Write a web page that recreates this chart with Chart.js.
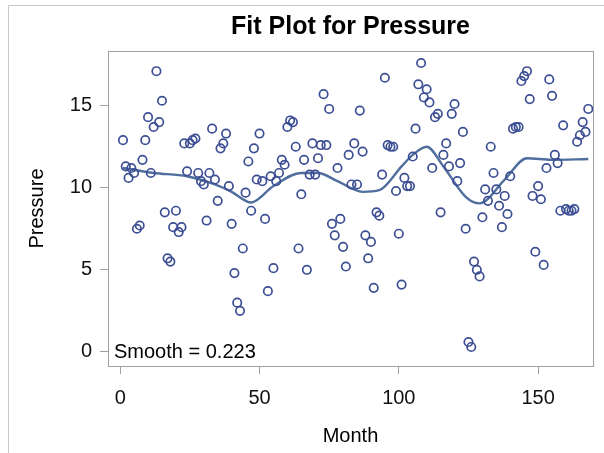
<!DOCTYPE html>
<html>
<head>
<meta charset="utf-8">
<script src="https://cdn.jsdelivr.net/npm/chart.js@4/dist/chart.umd.min.js"></script>
<style>
    html, body { margin: 0; padding: 0; background: #fff; }
    #chart-container { width: 604px; height: 453px; }
</style>
</head>
<body>
<div id="chart-container"><canvas id="fit-plot"></canvas></div>
<script>
// monthly pressure readings, month 1 .. 168
const pressure = [
    12.9, 11.3, 10.6, 11.2, 10.9, 7.5, 7.7, 11.7, 12.9, 14.3, 10.9, 13.7, 17.1, 14.0, 15.3, 8.5,
    5.7, 5.5, 7.6, 8.6, 7.3, 7.6, 12.7, 11.0, 12.7, 12.9, 13.0, 10.9, 10.4, 10.2, 8.0, 10.9,
    13.6, 10.5, 9.2, 12.4, 12.7, 13.3, 10.1, 7.8, 4.8, 3.0, 2.5, 6.3, 9.7, 11.6, 8.6, 12.4,
    10.5, 13.3, 10.4, 8.1, 3.7, 10.7, 5.1, 10.4, 10.9, 11.7, 11.4, 13.7, 14.1, 14.0, 12.5, 6.3,
    9.6, 11.7, 5.0, 10.8, 12.7, 10.8, 11.8, 12.6, 15.7, 12.6, 14.8, 7.8, 7.1, 11.2, 8.1, 6.4,
    5.2, 12.0, 10.2, 12.7, 10.2, 14.7, 12.2, 7.1, 5.7, 6.7, 3.9, 8.5, 8.3, 10.8, 16.7, 12.6,
    12.5, 12.5, 9.8, 7.2, 4.1, 10.6, 10.1, 10.1, 11.9, 13.6, 16.3, 17.6, 15.5, 16.0, 15.2, 11.2,
    14.3, 14.5, 8.5, 12.0, 12.7, 11.3, 14.5, 15.1, 10.4, 11.5, 13.4, 7.5, 0.6, 0.3, 5.5, 5.0,
    4.6, 8.2, 9.9, 9.2, 12.5, 10.9, 9.9, 8.9, 7.6, 9.5, 8.4, 10.7, 13.6, 13.7, 13.7, 16.5,
    16.8, 17.1, 15.4, 9.5, 6.1, 10.1, 9.3, 5.3, 11.2, 16.6, 15.6, 12.0, 11.5, 8.6, 13.8, 8.7,
    8.6, 8.6, 8.7, 12.8, 13.2, 14.0, 13.4, 14.8
];
const months = pressure.map((_, i) => i + 1);

// loess curve read along the month axis
const fitMonths = [1, 12, 24, 34, 40, 47, 55, 65, 71, 78, 87, 93, 101, 105, 110, 116, 124, 129, 138, 146, 155, 168];
const fitValues = [11.2, 10.9, 10.7, 10.2, 9.75, 9.1, 10.1, 10.9, 10.9, 10.4, 9.75, 9.85, 11.3, 12.0, 12.5, 11.3, 9.45, 9.05, 10.5, 11.8, 11.7, 11.75];

const xTicks = [0, 50, 100, 150];
const yTicks = [0, 5, 10, 15];

const chartTitle = 'Fit Plot for Pressure';
const smoothLabel = 'Smooth = 0.223';

const MarkerColor = '#3d4f94';
const FitColor = '#4f6e9d';
const FrameColor = '#a0a0a0';
const FontFamily = '"Liberation Sans", Arial, sans-serif';

// title, inset label, plot frame and outer border
const decorations = {
    id: 'decorations',
    beforeDraw(chart) {
        const ctx = chart.ctx;
        ctx.save();
        ctx.strokeStyle = '#c8c8c8';
        ctx.lineWidth = 1;
        ctx.beginPath();
        ctx.moveTo(8.5, chart.height);
        ctx.lineTo(8.5, 5.5);
        ctx.lineTo(chart.width, 5.5);
        ctx.stroke();
        ctx.restore();
    },
    afterDraw(chart) {
        const ctx = chart.ctx;
        const area = chart.chartArea;
        ctx.save();
        ctx.strokeStyle = FrameColor;
        ctx.lineWidth = 1;
        ctx.strokeRect(area.left + 0.5, area.top + 0.5, area.right - area.left, area.bottom - area.top);

        ctx.fillStyle = '#000';
        ctx.textBaseline = 'middle';
        ctx.font = 'bold 25px ' + FontFamily;
        ctx.textAlign = 'center';
        ctx.fillText(chartTitle, (area.left + area.right) / 2, 27);

        ctx.font = '20px ' + FontFamily;
        ctx.textAlign = 'left';
        ctx.fillText(smoothLabel, area.left + 6, area.bottom - 14);
        ctx.restore();
    }
};

function fixedTicks(values) {
    return function(scale) {
        scale.ticks = values.map(v => ({ value: v }));
    };
}

new Chart(document.getElementById('fit-plot'), {
    type: 'scatter',
    data: {
        datasets: [{
            type: 'line',
            data: fitMonths.map((m, i) => ({ x: m, y: fitValues[i] })),
            borderColor: FitColor,
            borderWidth: 2.4,
            pointRadius: 0,
            fill: false,
            cubicInterpolationMode: 'monotone',
            order: 2
        }, {
            data: months.map((m, i) => ({ x: m, y: pressure[i] })),
            pointStyle: 'circle',
            pointRadius: 4.2,
            pointBorderWidth: 1.7,
            borderColor: MarkerColor,
            backgroundColor: 'rgba(0,0,0,0)',
            order: 1
        }]
    },
    options: {
        responsive: true,
        maintainAspectRatio: false,
        animation: false,
        layout: {
            padding: { top: 51, right: 11, left: 0, bottom: 0 }
        },
        scales: {
            x: {
                type: 'linear',
                min: -4.38,
                max: 169.7,
                afterBuildTicks: fixedTicks(xTicks),
                afterFit: scale => { scale.height = 87; },
                grid: { drawOnChartArea: false, drawTicks: true, tickLength: 8, color: FrameColor },
                border: { display: true, color: FrameColor },
                ticks: {
                    color: '#111',
                    padding: 12,
                    maxRotation: 0,
                    font: { family: FontFamily, size: 20 }
                },
                title: {
                    display: true,
                    text: 'Month',
                    color: '#000',
                    padding: { top: 0, bottom: 5 },
                    font: { family: FontFamily, size: 20 }
                }
            },
            y: {
                min: -0.86,
                max: 18.33,
                afterBuildTicks: fixedTicks(yTicks),
                afterFit: scale => { scale.width = 108; },
                grid: { drawOnChartArea: false, drawTicks: true, tickLength: 8, color: FrameColor },
                border: { display: true, color: FrameColor },
                ticks: {
                    color: '#111',
                    padding: 8,
                    font: { family: FontFamily, size: 20 }
                },
                title: {
                    display: true,
                    text: 'Pressure',
                    color: '#000',
                    padding: { top: 25, bottom: 0 },
                    font: { family: FontFamily, size: 20 }
                }
            }
        },
        plugins: {
            legend: { display: false },
            tooltip: { enabled: false }
        }
    },
    plugins: [decorations]
});
</script>
</body>
</html>
